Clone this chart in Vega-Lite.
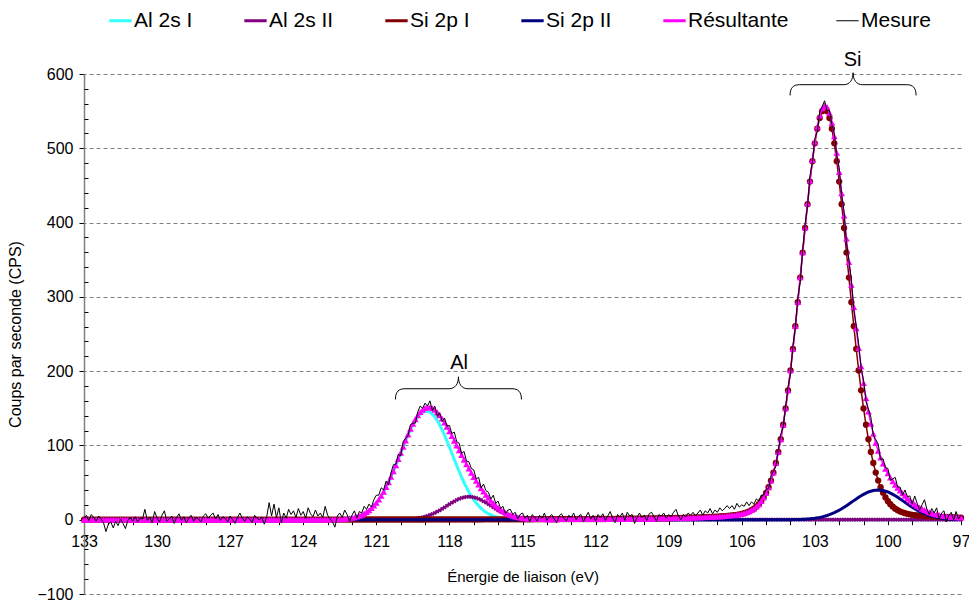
{
"$schema": "https://vega.github.io/schema/vega-lite/v6.json",
"width": 877, "height": 520,
"autosize": {"type": "none"},
"padding": {"left": 84, "top": 74, "right": 8, "bottom": 9},
"background": "white",
"config": {"view": {"stroke": null}, "font": "Liberation Sans", "axis": {"labelFont": "Liberation Sans", "titleFont": "Liberation Sans"}, "legend": {"labelFont": "Liberation Sans"}},
"datasets": {"xps": [
{"x":133.0,"a":0,"b":0,"c":0.1,"d":0,"r":0.1,"m":2},{"x":132.9,"a":0,"b":0,"c":0.1,"d":0,"r":0.1,"m":6},{"x":132.8,"a":0,"b":0,"c":0.1,"d":0,"r":0.1,"m":-1},{"x":132.7,"a":0,"b":0,"c":0.1,"d":0,"r":0.1,"m":7},{"x":132.6,"a":0,"b":0,"c":0.1,"d":0,"r":0.1,"m":3},{"x":132.5,"a":0,"b":0,"c":0.1,"d":0,"r":0.1,"m":-2},{"x":132.4,"a":0,"b":0,"c":0.1,"d":0,"r":0.1,"m":5},{"x":132.3,"a":0,"b":0,"c":0.1,"d":0,"r":0.1,"m":1},{"x":132.2,"a":0,"b":0,"c":0.1,"d":0,"r":0.1,"m":-4},{"x":132.1,"a":0,"b":0,"c":0.1,"d":0,"r":0.1,"m":-16},
{"x":132.0,"a":0,"b":0,"c":0.1,"d":0,"r":0.1,"m":-6},{"x":131.9,"a":0,"b":0,"c":0.1,"d":0,"r":0.1,"m":-3},{"x":131.8,"a":0,"b":0,"c":0.1,"d":0,"r":0.1,"m":-11},{"x":131.7,"a":0,"b":0,"c":0.1,"d":0,"r":0.1,"m":-2},{"x":131.6,"a":0,"b":0,"c":0.1,"d":0,"r":0.1,"m":-8},{"x":131.5,"a":0,"b":0,"c":0.1,"d":0,"r":0.1,"m":1},{"x":131.4,"a":0,"b":0,"c":0.1,"d":0,"r":0.1,"m":-5},{"x":131.3,"a":0,"b":0,"c":0.1,"d":0,"r":0.1,"m":-12},{"x":131.2,"a":0,"b":0,"c":0.1,"d":0,"r":0.1,"m":-1},{"x":131.1,"a":0,"b":0,"c":0.1,"d":0,"r":0.1,"m":3},
{"x":131.0,"a":0,"b":0,"c":0.1,"d":0,"r":0.1,"m":-2},{"x":130.9,"a":0,"b":0,"c":0.1,"d":0,"r":0.1,"m":4},{"x":130.8,"a":0,"b":0,"c":0.1,"d":0,"r":0.1,"m":-3},{"x":130.7,"a":0,"b":0,"c":0.1,"d":0,"r":0.1,"m":2},{"x":130.6,"a":0,"b":0,"c":0.1,"d":0,"r":0.1,"m":1},{"x":130.5,"a":0,"b":0,"c":0.1,"d":0,"r":0.1,"m":14},{"x":130.4,"a":0,"b":0,"c":0.1,"d":0,"r":0.1,"m":-1},{"x":130.3,"a":0,"b":0,"c":0.1,"d":0,"r":0.1,"m":3},{"x":130.2,"a":0,"b":0,"c":0.1,"d":0,"r":0.1,"m":-4},{"x":130.1,"a":0,"b":0,"c":0.1,"d":0,"r":0.1,"m":11},
{"x":130.0,"a":0,"b":0,"c":0.1,"d":0,"r":0.1,"m":2},{"x":129.9,"a":0,"b":0,"c":0.1,"d":0,"r":0.1,"m":-3},{"x":129.8,"a":0,"b":0,"c":0.1,"d":0,"r":0.1,"m":6},{"x":129.7,"a":0,"b":0,"c":0.1,"d":0,"r":0.1,"m":12},{"x":129.6,"a":0,"b":0,"c":0.1,"d":0,"r":0.1,"m":-2},{"x":129.5,"a":0,"b":0,"c":0.1,"d":0,"r":0.1,"m":1},{"x":129.4,"a":0,"b":0,"c":0.1,"d":0,"r":0.1,"m":5},{"x":129.3,"a":0,"b":0,"c":0.1,"d":0,"r":0.1,"m":-5},{"x":129.2,"a":0,"b":0,"c":0.1,"d":0,"r":0.1,"m":3},{"x":129.1,"a":0,"b":0,"c":0.1,"d":0,"r":0.1,"m":8},
{"x":129.0,"a":0,"b":0,"c":0.1,"d":0,"r":0.1,"m":-1},{"x":128.9,"a":0,"b":0,"c":0.1,"d":0,"r":0.1,"m":4},{"x":128.8,"a":0,"b":0,"c":0.1,"d":0,"r":0.1,"m":-4},{"x":128.7,"a":0,"b":0,"c":0.1,"d":0,"r":0.1,"m":2},{"x":128.6,"a":0,"b":0,"c":0.1,"d":0,"r":0.1,"m":6},{"x":128.5,"a":0,"b":0,"c":0.1,"d":0,"r":0.1,"m":-2},{"x":128.4,"a":0,"b":0,"c":0.1,"d":0,"r":0.1,"m":3},{"x":128.3,"a":0,"b":0,"c":0.1,"d":0,"r":0.1,"m":1},{"x":128.2,"a":0,"b":0,"c":0.1,"d":0,"r":0.1,"m":-3},{"x":128.1,"a":0,"b":0,"c":0.1,"d":0,"r":0.1,"m":5},
{"x":128.0,"a":0,"b":0,"c":0.2,"d":0,"r":0.2,"m":8},{"x":127.9,"a":0,"b":0,"c":0.2,"d":0,"r":0.2,"m":2},{"x":127.8,"a":0,"b":0,"c":0.2,"d":0,"r":0.2,"m":6},{"x":127.7,"a":0,"b":0,"c":0.2,"d":0,"r":0.2,"m":9},{"x":127.6,"a":0,"b":0,"c":0.2,"d":0,"r":0.2,"m":1},{"x":127.5,"a":0,"b":0,"c":0.2,"d":0,"r":0.2,"m":7},{"x":127.4,"a":0,"b":0,"c":0.2,"d":0,"r":0.2,"m":-1},{"x":127.3,"a":0,"b":0,"c":0.2,"d":0,"r":0.2,"m":4},{"x":127.2,"a":0,"b":0,"c":0.2,"d":0,"r":0.2,"m":2},{"x":127.1,"a":0,"b":0,"c":0.2,"d":0,"r":0.2,"m":-3},
{"x":127.0,"a":0,"b":0,"c":0.2,"d":0,"r":0.2,"m":5},{"x":126.9,"a":0,"b":0,"c":0.2,"d":0,"r":0.2,"m":0},{"x":126.8,"a":0,"b":0,"c":0.2,"d":0,"r":0.2,"m":-5},{"x":126.7,"a":0,"b":0,"c":0.2,"d":0,"r":0.2,"m":3},{"x":126.6,"a":0,"b":0,"c":0.2,"d":0,"r":0.2,"m":9},{"x":126.5,"a":0,"b":0,"c":0.2,"d":0,"r":0.2,"m":2},{"x":126.4,"a":0,"b":0,"c":0.2,"d":0,"r":0.2,"m":-2},{"x":126.3,"a":0,"b":0,"c":0.2,"d":0,"r":0.2,"m":4},{"x":126.2,"a":0,"b":0,"c":0.2,"d":0,"r":0.2,"m":1},{"x":126.1,"a":0,"b":0,"c":0.2,"d":0,"r":0.2,"m":-4},
{"x":126.0,"a":0,"b":0,"c":0.2,"d":0,"r":0.2,"m":6},{"x":125.9,"a":0,"b":0,"c":0.2,"d":0,"r":0.2,"m":2},{"x":125.8,"a":0,"b":0,"c":0.2,"d":0,"r":0.2,"m":0},{"x":125.7,"a":0,"b":0,"c":0.2,"d":0,"r":0.2,"m":3},{"x":125.6,"a":0,"b":0,"c":0.2,"d":0,"r":0.2,"m":-6},{"x":125.5,"a":0,"b":0,"c":0.2,"d":0,"r":0.2,"m":4},{"x":125.4,"a":0,"b":0,"c":0.2,"d":0,"r":0.2,"m":23},{"x":125.3,"a":0,"b":0,"c":0.2,"d":0,"r":0.2,"m":5},{"x":125.2,"a":0,"b":0,"c":0.2,"d":0,"r":0.2,"m":21},{"x":125.1,"a":0,"b":0,"c":0.2,"d":0,"r":0.2,"m":3},
{"x":125.0,"a":0,"b":0,"c":0.2,"d":0,"r":0.2,"m":16},{"x":124.9,"a":0,"b":0,"c":0.2,"d":0,"r":0.2,"m":-4},{"x":124.8,"a":0,"b":0,"c":0.2,"d":0,"r":0.2,"m":9},{"x":124.7,"a":0,"b":0,"c":0.2,"d":0,"r":0.2,"m":2},{"x":124.6,"a":0,"b":0,"c":0.2,"d":0,"r":0.2,"m":14},{"x":124.5,"a":0,"b":0,"c":0.2,"d":0,"r":0.2,"m":7},{"x":124.4,"a":0,"b":0,"c":0.2,"d":0,"r":0.2,"m":12},{"x":124.3,"a":0,"b":0,"c":0.2,"d":0,"r":0.2,"m":3},{"x":124.2,"a":0,"b":0,"c":0.2,"d":0,"r":0.2,"m":15},{"x":124.1,"a":0,"b":0,"c":0.2,"d":0,"r":0.2,"m":6},
{"x":124.0,"a":0,"b":0,"c":0.2,"d":0,"r":0.2,"m":11},{"x":123.9,"a":0,"b":0,"c":0.2,"d":0,"r":0.2,"m":2},{"x":123.8,"a":0,"b":0,"c":0.2,"d":0,"r":0.2,"m":16},{"x":123.7,"a":0,"b":0,"c":0.2,"d":0,"r":0.2,"m":8},{"x":123.6,"a":0,"b":0,"c":0.2,"d":0,"r":0.2,"m":4},{"x":123.5,"a":0,"b":0,"c":0.2,"d":0,"r":0.2,"m":13},{"x":123.4,"a":0,"b":0,"c":0.2,"d":0,"r":0.2,"m":5},{"x":123.3,"a":0,"b":0,"c":0.2,"d":0,"r":0.2,"m":9},{"x":123.2,"a":0,"b":0,"c":0.2,"d":0,"r":0.2,"m":3},{"x":123.1,"a":0,"b":0,"c":0.2,"d":0,"r":0.2,"m":18},
{"x":123.0,"a":0,"b":0,"c":0.2,"d":0,"r":0.2,"m":6},{"x":122.9,"a":0.1,"b":0,"c":0.2,"d":0,"r":0.3,"m":1},{"x":122.8,"a":0.2,"b":0,"c":0.2,"d":0,"r":0.4,"m":-3},{"x":122.7,"a":0.3,"b":0,"c":0.2,"d":0,"r":0.5,"m":-10},{"x":122.6,"a":0.4,"b":0,"c":0.2,"d":0,"r":0.6,"m":5},{"x":122.5,"a":0.5,"b":0,"c":0.2,"d":0,"r":0.7,"m":9},{"x":122.4,"a":0.7,"b":0,"c":0.2,"d":0,"r":0.9,"m":3},{"x":122.3,"a":1.0,"b":0,"c":0.2,"d":0,"r":1.2,"m":13},{"x":122.2,"a":1.3,"b":0,"c":0.2,"d":0,"r":1.5,"m":7},{"x":122.1,"a":1.8,"b":0,"c":0.2,"d":0,"r":2.0,"m":-2},
{"x":122.0,"a":2.3,"b":0,"c":0.2,"d":0,"r":2.5,"m":6},{"x":121.9,"a":3.0,"b":0,"c":0.2,"d":0,"r":3.2,"m":12},{"x":121.8,"a":3.9,"b":0,"c":0.2,"d":0,"r":4.1,"m":2},{"x":121.7,"a":5.0,"b":0,"c":0.2,"d":0,"r":5.2,"m":11},{"x":121.6,"a":6.4,"b":0,"c":0.2,"d":0,"r":6.6,"m":9},{"x":121.5,"a":8.1,"b":0,"c":0.3,"d":0,"r":8.4,"m":18},{"x":121.4,"a":10.1,"b":0,"c":0.3,"d":0,"r":10.4,"m":14},{"x":121.3,"a":12.5,"b":0,"c":0.3,"d":0,"r":12.8,"m":21},{"x":121.2,"a":15.3,"b":0,"c":0.3,"d":0,"r":15.6,"m":17},{"x":121.1,"a":18.7,"b":0,"c":0.3,"d":0,"r":19.0,"m":27},
{"x":121.0,"a":22.5,"b":0,"c":0.3,"d":0,"r":22.8,"m":33},{"x":120.9,"a":26.9,"b":0,"c":0.3,"d":0,"r":27.2,"m":33},{"x":120.8,"a":31.8,"b":0,"c":0.3,"d":0,"r":32.1,"m":43},{"x":120.7,"a":37.4,"b":0,"c":0.3,"d":0,"r":37.7,"m":40},{"x":120.6,"a":43.5,"b":0,"c":0.3,"d":0,"r":43.8,"m":52},{"x":120.5,"a":50.1,"b":0,"c":0.3,"d":0,"r":50.4,"m":47},{"x":120.4,"a":57.3,"b":0,"c":0.3,"d":0,"r":57.6,"m":63},{"x":120.3,"a":64.9,"b":0.1,"c":0.3,"d":0,"r":65.3,"m":74},{"x":120.2,"a":72.8,"b":0.1,"c":0.3,"d":0,"r":73.2,"m":75},{"x":120.1,"a":81.1,"b":0.2,"c":0.3,"d":0,"r":81.6,"m":88},
{"x":120.0,"a":89.4,"b":0.2,"c":0.3,"d":0,"r":89.9,"m":86},{"x":119.9,"a":97.7,"b":0.3,"c":0.3,"d":0,"r":98.3,"m":105},{"x":119.8,"a":105.9,"b":0.5,"c":0.3,"d":0,"r":106.7,"m":110},{"x":119.7,"a":113.7,"b":0.7,"c":0.3,"d":0,"r":114.7,"m":113},{"x":119.6,"a":121.0,"b":0.9,"c":0.3,"d":0,"r":122.2,"m":128},{"x":119.5,"a":127.6,"b":1.2,"c":0.3,"d":0,"r":129.1,"m":130},{"x":119.4,"a":133.4,"b":1.6,"c":0.3,"d":0,"r":135.3,"m":130},{"x":119.3,"a":138.3,"b":2.0,"c":0.3,"d":0,"r":140.6,"m":145},{"x":119.2,"a":142.0,"b":2.6,"c":0.3,"d":0,"r":144.9,"m":153},{"x":119.1,"a":144.5,"b":3.3,"c":0.3,"d":0,"r":148.1,"m":150},
{"x":119.0,"a":145.8,"b":4.2,"c":0.4,"d":0,"r":150.4,"m":157},{"x":118.9,"a":145.8,"b":5.2,"c":0.4,"d":0,"r":151.4,"m":153},{"x":118.8,"a":144.5,"b":6.4,"c":0.4,"d":0,"r":151.3,"m":160},{"x":118.7,"a":142.0,"b":7.7,"c":0.4,"d":0,"r":150.1,"m":147},{"x":118.6,"a":138.3,"b":9.2,"c":0.4,"d":0,"r":147.9,"m":153},{"x":118.5,"a":133.4,"b":10.9,"c":0.4,"d":0,"r":144.7,"m":139},{"x":118.4,"a":127.6,"b":12.7,"c":0.4,"d":0,"r":140.7,"m":144},{"x":118.3,"a":121.0,"b":14.7,"c":0.4,"d":0,"r":136.1,"m":132},{"x":118.2,"a":113.7,"b":16.7,"c":0.4,"d":0,"r":130.8,"m":137},{"x":118.1,"a":105.9,"b":18.8,"c":0.4,"d":0,"r":125.1,"m":126},
{"x":118.0,"a":97.7,"b":20.9,"c":0.4,"d":0,"r":119.0,"m":127},{"x":117.9,"a":89.4,"b":22.9,"c":0.4,"d":0,"r":112.7,"m":116},{"x":117.8,"a":81.1,"b":24.8,"c":0.4,"d":0,"r":106.3,"m":118},{"x":117.7,"a":72.8,"b":26.6,"c":0.4,"d":0,"r":99.8,"m":105},{"x":117.6,"a":64.9,"b":28.1,"c":0.4,"d":0,"r":93.4,"m":103},{"x":117.5,"a":57.3,"b":29.3,"c":0.4,"d":0,"r":87.0,"m":89},{"x":117.4,"a":50.1,"b":30.2,"c":0.4,"d":0,"r":80.7,"m":92},{"x":117.3,"a":43.5,"b":30.8,"c":0.4,"d":0,"r":74.7,"m":79},{"x":117.2,"a":37.4,"b":31.0,"c":0.4,"d":0,"r":68.8,"m":78},{"x":117.1,"a":31.8,"b":30.8,"c":0.4,"d":0,"r":63.0,"m":69},
{"x":117.0,"a":26.9,"b":30.2,"c":0.4,"d":0,"r":57.5,"m":67},{"x":116.9,"a":22.5,"b":29.3,"c":0.4,"d":0,"r":52.2,"m":55},{"x":116.8,"a":18.7,"b":28.1,"c":0.4,"d":0,"r":47.2,"m":57},{"x":116.7,"a":15.3,"b":26.6,"c":0.4,"d":0,"r":42.3,"m":43},{"x":116.6,"a":12.5,"b":24.8,"c":0.5,"d":0,"r":37.8,"m":48},{"x":116.5,"a":10.1,"b":22.9,"c":0.5,"d":0,"r":33.5,"m":39},{"x":116.4,"a":8.1,"b":20.9,"c":0.5,"d":0,"r":29.5,"m":37},{"x":116.3,"a":6.4,"b":18.8,"c":0.5,"d":0,"r":25.7,"m":28},{"x":116.2,"a":5.0,"b":16.7,"c":0.5,"d":0,"r":22.2,"m":33},{"x":116.1,"a":3.9,"b":14.7,"c":0.5,"d":0,"r":19.1,"m":22},
{"x":116.0,"a":3.0,"b":12.7,"c":0.5,"d":0,"r":16.2,"m":25},{"x":115.9,"a":2.3,"b":10.9,"c":0.5,"d":0,"r":13.7,"m":15},{"x":115.8,"a":1.8,"b":9.2,"c":0.5,"d":0,"r":11.5,"m":18},{"x":115.7,"a":1.3,"b":7.7,"c":0.5,"d":0,"r":9.5,"m":8},{"x":115.6,"a":1.0,"b":6.4,"c":0.5,"d":0,"r":7.9,"m":13},{"x":115.5,"a":0.7,"b":5.2,"c":0.6,"d":0,"r":6.5,"m":14},{"x":115.4,"a":0.5,"b":4.2,"c":0.6,"d":0,"r":5.3,"m":7},{"x":115.3,"a":0.4,"b":3.3,"c":0.6,"d":0,"r":4.3,"m":10},{"x":115.2,"a":0.3,"b":2.6,"c":0.6,"d":0,"r":3.5,"m":1},{"x":115.1,"a":0.2,"b":2.0,"c":0.6,"d":0,"r":2.8,"m":7},
{"x":115.0,"a":0.1,"b":1.6,"c":0.6,"d":0,"r":2.3,"m":9},{"x":114.9,"a":0,"b":1.2,"c":0.6,"d":0,"r":1.8,"m":2},{"x":114.8,"a":0,"b":0.9,"c":0.6,"d":0,"r":1.5,"m":6},{"x":114.7,"a":0,"b":0.7,"c":0.6,"d":0,"r":1.3,"m":-3},{"x":114.6,"a":0,"b":0.5,"c":0.6,"d":0,"r":1.1,"m":7},{"x":114.5,"a":0,"b":0.3,"c":0.7,"d":0,"r":1.0,"m":3},{"x":114.4,"a":0,"b":0.2,"c":0.7,"d":0,"r":0.9,"m":-2},{"x":114.3,"a":0,"b":0.2,"c":0.7,"d":0,"r":0.9,"m":6},{"x":114.2,"a":0,"b":0.1,"c":0.7,"d":0,"r":0.8,"m":2},{"x":114.1,"a":0,"b":0.1,"c":0.7,"d":0,"r":0.8,"m":9},
{"x":114.0,"a":0,"b":0,"c":0.7,"d":0,"r":0.7,"m":-1},{"x":113.9,"a":0,"b":0,"c":0.7,"d":0,"r":0.7,"m":4},{"x":113.8,"a":0,"b":0,"c":0.7,"d":0,"r":0.7,"m":7},{"x":113.7,"a":0,"b":0,"c":0.7,"d":0,"r":0.7,"m":1},{"x":113.6,"a":0,"b":0,"c":0.7,"d":0,"r":0.7,"m":-4},{"x":113.5,"a":0,"b":0,"c":0.8,"d":0,"r":0.8,"m":5},{"x":113.4,"a":0,"b":0,"c":0.8,"d":0,"r":0.8,"m":8},{"x":113.3,"a":0,"b":0,"c":0.8,"d":0,"r":0.8,"m":2},{"x":113.2,"a":0,"b":0,"c":0.8,"d":0,"r":0.8,"m":-2},{"x":113.1,"a":0,"b":0,"c":0.8,"d":0,"r":0.8,"m":6},
{"x":113.0,"a":0,"b":0,"c":0.9,"d":0,"r":0.9,"m":3},{"x":112.9,"a":0,"b":0,"c":0.9,"d":0,"r":0.9,"m":9},{"x":112.8,"a":0,"b":0,"c":0.9,"d":0,"r":0.9,"m":0},{"x":112.7,"a":0,"b":0,"c":0.9,"d":0,"r":0.9,"m":5},{"x":112.6,"a":0,"b":0,"c":0.9,"d":0,"r":0.9,"m":7},{"x":112.5,"a":0,"b":0,"c":0.9,"d":0,"r":0.9,"m":-3},{"x":112.4,"a":0,"b":0,"c":0.9,"d":0,"r":0.9,"m":4},{"x":112.3,"a":0,"b":0,"c":0.9,"d":0,"r":0.9,"m":10},{"x":112.2,"a":0,"b":0,"c":0.9,"d":0,"r":0.9,"m":1},{"x":112.1,"a":0,"b":0,"c":0.9,"d":0,"r":0.9,"m":6},
{"x":112.0,"a":0,"b":0,"c":1.0,"d":0,"r":1.0,"m":-2},{"x":111.9,"a":0,"b":0,"c":1.0,"d":0,"r":1.0,"m":7},{"x":111.8,"a":0,"b":0,"c":1.0,"d":0,"r":1.0,"m":3},{"x":111.7,"a":0,"b":0,"c":1.0,"d":0,"r":1.0,"m":8},{"x":111.6,"a":0,"b":0,"c":1.0,"d":0,"r":1.0,"m":-1},{"x":111.5,"a":0,"b":0,"c":1.1,"d":0,"r":1.1,"m":5},{"x":111.4,"a":0,"b":0,"c":1.1,"d":0,"r":1.1,"m":11},{"x":111.3,"a":0,"b":0,"c":1.1,"d":0,"r":1.1,"m":2},{"x":111.2,"a":0,"b":0,"c":1.2,"d":0,"r":1.2,"m":-4},{"x":111.1,"a":0,"b":0,"c":1.2,"d":0,"r":1.2,"m":7},
{"x":111.0,"a":0,"b":0,"c":1.2,"d":0,"r":1.2,"m":4},{"x":110.9,"a":0,"b":0,"c":1.2,"d":0,"r":1.2,"m":9},{"x":110.8,"a":0,"b":0,"c":1.3,"d":0,"r":1.3,"m":-1},{"x":110.7,"a":0,"b":0,"c":1.3,"d":0,"r":1.3,"m":10},{"x":110.6,"a":0,"b":0,"c":1.3,"d":0,"r":1.3,"m":5},{"x":110.5,"a":0,"b":0,"c":1.4,"d":0,"r":1.4,"m":7},{"x":110.4,"a":0,"b":0,"c":1.4,"d":0,"r":1.4,"m":-5},{"x":110.3,"a":0,"b":0,"c":1.4,"d":0,"r":1.4,"m":3},{"x":110.2,"a":0,"b":0,"c":1.5,"d":0,"r":1.5,"m":9},{"x":110.1,"a":0,"b":0,"c":1.5,"d":0,"r":1.5,"m":3},
{"x":110.0,"a":0,"b":0,"c":1.6,"d":0,"r":1.6,"m":6},{"x":109.9,"a":0,"b":0,"c":1.6,"d":0,"r":1.6,"m":-1},{"x":109.8,"a":0,"b":0,"c":1.7,"d":0,"r":1.7,"m":8},{"x":109.7,"a":0,"b":0,"c":1.7,"d":0,"r":1.7,"m":10},{"x":109.6,"a":0,"b":0,"c":1.7,"d":0,"r":1.7,"m":4},{"x":109.5,"a":0,"b":0,"c":1.8,"d":0,"r":1.8,"m":-2},{"x":109.4,"a":0,"b":0,"c":1.8,"d":0,"r":1.8,"m":7},{"x":109.3,"a":0,"b":0,"c":1.9,"d":0,"r":1.9,"m":5},{"x":109.2,"a":0,"b":0,"c":2.0,"d":0,"r":2.0,"m":9},{"x":109.1,"a":0,"b":0,"c":2.0,"d":0,"r":2.0,"m":2},
{"x":109.0,"a":0,"b":0,"c":2.1,"d":0,"r":2.1,"m":7},{"x":108.9,"a":0,"b":0,"c":2.1,"d":0,"r":2.1,"m":4},{"x":108.8,"a":0,"b":0,"c":2.2,"d":0,"r":2.2,"m":10},{"x":108.7,"a":0,"b":0,"c":2.3,"d":0,"r":2.3,"m":14},{"x":108.6,"a":0,"b":0,"c":2.4,"d":0,"r":2.4,"m":5},{"x":108.5,"a":0,"b":0,"c":2.4,"d":0,"r":2.4,"m":0},{"x":108.4,"a":0,"b":0,"c":2.5,"d":0,"r":2.5,"m":7},{"x":108.3,"a":0,"b":0,"c":2.6,"d":0,"r":2.6,"m":4},{"x":108.2,"a":0,"b":0,"c":2.7,"d":0,"r":2.7,"m":9},{"x":108.1,"a":0,"b":0,"c":2.8,"d":0,"r":2.8,"m":6},
{"x":108.0,"a":0,"b":0,"c":2.9,"d":0,"r":2.9,"m":10},{"x":107.9,"a":0,"b":0,"c":3.0,"d":0,"r":3.0,"m":5},{"x":107.8,"a":0,"b":0,"c":3.1,"d":0,"r":3.1,"m":9},{"x":107.7,"a":0,"b":0,"c":3.2,"d":0,"r":3.2,"m":13},{"x":107.6,"a":0,"b":0,"c":3.3,"d":0,"r":3.3,"m":6},{"x":107.5,"a":0,"b":0,"c":3.5,"d":0,"r":3.5,"m":12},{"x":107.4,"a":0,"b":0,"c":3.6,"d":0,"r":3.6,"m":9},{"x":107.3,"a":0,"b":0,"c":3.8,"d":0,"r":3.8,"m":15},{"x":107.2,"a":0,"b":0,"c":3.9,"d":0,"r":3.9,"m":8},{"x":107.1,"a":0,"b":0,"c":4.1,"d":0,"r":4.1,"m":13},
{"x":107.0,"a":0,"b":0,"c":4.2,"d":0,"r":4.2,"m":10},{"x":106.9,"a":0,"b":0,"c":4.4,"d":0,"r":4.4,"m":16},{"x":106.8,"a":0,"b":0,"c":4.7,"d":0,"r":4.7,"m":12},{"x":106.7,"a":0,"b":0,"c":4.9,"d":0,"r":4.9,"m":15},{"x":106.6,"a":0,"b":0,"c":5.2,"d":0,"r":5.2,"m":19},{"x":106.5,"a":0,"b":0,"c":5.5,"d":0,"r":5.5,"m":15},{"x":106.4,"a":0,"b":0,"c":5.8,"d":0,"r":5.8,"m":19},{"x":106.3,"a":0,"b":0,"c":6.2,"d":0,"r":6.2,"m":14},{"x":106.2,"a":0,"b":0,"c":6.6,"d":0,"r":6.6,"m":22},{"x":106.1,"a":0,"b":0,"c":7.3,"d":0,"r":7.3,"m":17},
{"x":106.0,"a":0,"b":0,"c":7.9,"d":0,"r":7.9,"m":20},{"x":105.9,"a":0,"b":0,"c":8.8,"d":0,"r":8.8,"m":18},{"x":105.8,"a":0,"b":0,"c":9.9,"d":0,"r":9.9,"m":24},{"x":105.7,"a":0,"b":0,"c":11.2,"d":0,"r":11.2,"m":19},{"x":105.6,"a":0,"b":0,"c":12.9,"d":0,"r":12.9,"m":24},{"x":105.5,"a":0,"b":0,"c":14.9,"d":0,"r":14.9,"m":21},{"x":105.4,"a":0,"b":0,"c":17.6,"d":0,"r":17.6,"m":28},{"x":105.3,"a":0,"b":0,"c":20.9,"d":0,"r":20.9,"m":25},{"x":105.2,"a":0,"b":0,"c":25.0,"d":0,"r":25.0,"m":33},{"x":105.1,"a":0,"b":0,"c":30.0,"d":0,"r":30.0,"m":33},
{"x":105.0,"a":0,"b":0,"c":36.2,"d":0,"r":36.2,"m":41},{"x":104.9,"a":0,"b":0,"c":43.7,"d":0,"r":43.7,"m":42},{"x":104.8,"a":0,"b":0,"c":52.7,"d":0,"r":52.7,"m":59},{"x":104.7,"a":0,"b":0,"c":63.5,"d":0,"r":63.5,"m":65},{"x":104.6,"a":0,"b":0,"c":76.3,"d":0,"r":76.3,"m":72},{"x":104.5,"a":0,"b":0,"c":91.2,"d":0,"r":91.2,"m":94},{"x":104.4,"a":0,"b":0,"c":108.3,"d":0,"r":108.3,"m":115},{"x":104.3,"a":0,"b":0,"c":127.8,"d":0,"r":127.8,"m":125},{"x":104.2,"a":0,"b":0,"c":149.8,"d":0.1,"r":149.9,"m":152},{"x":104.1,"a":0,"b":0,"c":174.2,"d":0.1,"r":174.3,"m":179},
{"x":104.0,"a":0,"b":0,"c":200.9,"d":0.1,"r":201.0,"m":196},{"x":103.9,"a":0,"b":0,"c":229.8,"d":0.2,"r":230.0,"m":234},{"x":103.8,"a":0,"b":0,"c":260.6,"d":0.2,"r":260.8,"m":259},{"x":103.7,"a":0,"b":0,"c":292.8,"d":0.3,"r":293.1,"m":299},{"x":103.6,"a":0,"b":0,"c":325.9,"d":0.4,"r":326.3,"m":320},{"x":103.5,"a":0,"b":0,"c":359.5,"d":0.6,"r":360.1,"m":363},{"x":103.4,"a":0,"b":0,"c":392.7,"d":0.7,"r":393.4,"m":398},{"x":103.3,"a":0,"b":0,"c":424.8,"d":1.0,"r":425.8,"m":422},{"x":103.2,"a":0,"b":0,"c":455.2,"d":1.2,"r":456.4,"m":463},{"x":103.1,"a":0,"b":0,"c":482.7,"d":1.6,"r":484.3,"m":481},
{"x":103.0,"a":0,"b":0,"c":506.7,"d":2.0,"r":508.7,"m":513},{"x":102.9,"a":0,"b":0,"c":526.3,"d":2.5,"r":528.8,"m":523},{"x":102.8,"a":0,"b":0,"c":540.9,"d":3.1,"r":544.0,"m":549},{"x":102.7,"a":0,"b":0,"c":550.0,"d":3.8,"r":553.8,"m":556},{"x":102.6,"a":0,"b":0,"c":553.0,"d":4.7,"r":557.7,"m":564},{"x":102.5,"a":0,"b":0,"c":550.0,"d":5.7,"r":555.7,"m":551},{"x":102.4,"a":0,"b":0,"c":540.9,"d":6.8,"r":547.7,"m":551},{"x":102.3,"a":0,"b":0,"c":526.3,"d":8.1,"r":534.4,"m":532},{"x":102.2,"a":0,"b":0,"c":506.7,"d":9.5,"r":516.2,"m":520},{"x":102.1,"a":0,"b":0,"c":482.7,"d":11.1,"r":493.8,"m":490},
{"x":102.0,"a":0,"b":0,"c":455.2,"d":12.8,"r":468.0,"m":474},{"x":101.9,"a":0,"b":0,"c":424.8,"d":14.7,"r":439.5,"m":437},{"x":101.8,"a":0,"b":0,"c":392.7,"d":16.8,"r":409.5,"m":415},{"x":101.7,"a":0,"b":0,"c":359.5,"d":18.9,"r":378.4,"m":372},{"x":101.6,"a":0,"b":0,"c":325.9,"d":21.1,"r":347.0,"m":349},{"x":101.5,"a":0,"b":0,"c":292.8,"d":23.4,"r":316.2,"m":323},{"x":101.4,"a":0,"b":0,"c":260.6,"d":25.7,"r":286.3,"m":282},{"x":101.3,"a":0,"b":0,"c":229.8,"d":27.9,"r":257.7,"m":261},{"x":101.2,"a":0,"b":0,"c":200.9,"d":30.1,"r":231.0,"m":237},{"x":101.1,"a":0,"b":0,"c":174.2,"d":32.2,"r":206.4,"m":204},
{"x":101.0,"a":0,"b":0,"c":149.8,"d":34.1,"r":183.9,"m":188},{"x":100.9,"a":0,"b":0,"c":127.8,"d":35.8,"r":163.6,"m":159},{"x":100.8,"a":0,"b":0,"c":108.3,"d":37.3,"r":145.6,"m":149},{"x":100.7,"a":0,"b":0,"c":91.2,"d":38.4,"r":129.6,"m":138},{"x":100.6,"a":0,"b":0,"c":76.3,"d":39.3,"r":115.6,"m":114},{"x":100.5,"a":0,"b":0,"c":63.5,"d":39.8,"r":103.3,"m":108},{"x":100.4,"a":0,"b":0,"c":52.7,"d":40.0,"r":92.7,"m":102},{"x":100.3,"a":0,"b":0,"c":43.7,"d":39.8,"r":83.5,"m":81},{"x":100.2,"a":0,"b":0,"c":36.2,"d":39.3,"r":75.5,"m":82},{"x":100.1,"a":0,"b":0,"c":30.0,"d":38.4,"r":68.4,"m":70},
{"x":100.0,"a":0,"b":0,"c":25.0,"d":37.3,"r":62.3,"m":69},{"x":99.9,"a":0,"b":0,"c":20.9,"d":35.8,"r":56.7,"m":53},{"x":99.8,"a":0,"b":0,"c":17.6,"d":34.1,"r":51.7,"m":55},{"x":99.7,"a":0,"b":0,"c":14.9,"d":32.2,"r":47.1,"m":57},{"x":99.6,"a":0,"b":0,"c":12.9,"d":30.1,"r":43.0,"m":44},{"x":99.5,"a":0,"b":0,"c":11.2,"d":27.9,"r":39.1,"m":44},{"x":99.4,"a":0,"b":0,"c":9.9,"d":25.7,"r":35.6,"m":33},{"x":99.3,"a":0,"b":0,"c":8.8,"d":23.4,"r":32.2,"m":40},{"x":99.2,"a":0,"b":0,"c":7.9,"d":21.1,"r":29.0,"m":31},{"x":99.1,"a":0,"b":0,"c":7.3,"d":18.9,"r":26.2,"m":32},
{"x":99.0,"a":0,"b":0,"c":6.6,"d":16.8,"r":23.4,"m":21},{"x":98.9,"a":0,"b":0,"c":6.2,"d":14.7,"r":20.9,"m":32},{"x":98.8,"a":0,"b":0,"c":5.8,"d":12.8,"r":18.6,"m":22},{"x":98.7,"a":0,"b":0,"c":5.5,"d":11.1,"r":16.6,"m":13},{"x":98.6,"a":0,"b":0,"c":5.2,"d":9.5,"r":14.7,"m":20},{"x":98.5,"a":0,"b":0,"c":4.9,"d":8.1,"r":13.0,"m":27},{"x":98.4,"a":0,"b":0,"c":4.7,"d":6.8,"r":11.5,"m":14},{"x":98.3,"a":0,"b":0,"c":4.4,"d":5.7,"r":10.1,"m":7},{"x":98.2,"a":0,"b":0,"c":4.2,"d":4.7,"r":8.9,"m":15},{"x":98.1,"a":0,"b":0,"c":4.1,"d":3.8,"r":7.9,"m":9},
{"x":98.0,"a":0,"b":0,"c":3.9,"d":3.1,"r":7.0,"m":16},{"x":97.9,"a":0,"b":0,"c":3.8,"d":2.5,"r":6.3,"m":1},{"x":97.8,"a":0,"b":0,"c":3.6,"d":2.0,"r":5.6,"m":9},{"x":97.7,"a":0,"b":0,"c":3.5,"d":1.6,"r":5.1,"m":12},{"x":97.6,"a":0,"b":0,"c":3.3,"d":1.2,"r":4.5,"m":-3},{"x":97.5,"a":0,"b":0,"c":3.2,"d":1.0,"r":4.2,"m":6},{"x":97.4,"a":0,"b":0,"c":3.1,"d":0.7,"r":3.8,"m":10},{"x":97.3,"a":0,"b":0,"c":3.0,"d":0.6,"r":3.6,"m":0},{"x":97.2,"a":0,"b":0,"c":2.9,"d":0.4,"r":3.3,"m":11},{"x":97.1,"a":0,"b":0,"c":2.8,"d":0.3,"r":3.1,"m":1},
{"x":97.0,"a":0,"b":0,"c":2.7,"d":0.2,"r":2.9,"m":6}
]},
"layer": [
 {
  "encoding": {"x": {"field": "x", "type": "quantitative", "scale": {"domain": [97, 133], "reverse": true, "nice": false, "zero": false},
    "axis": {"values": [133,132,131,130,129,128,127,126,125,124,123,122,121,120,119,118,117,116,115,114,113,112,111,110,109,108,107,106,105,104,103,102,101,100,99,98,97],
      "labelExpr": "(133 - datum.value) % 3 == 0 ? datum.label : ''", "labelOverlap": false, "labelFlush": false, "labelBound": false,
      "offset": -74.29, "tickSize": 5, "tickColor": "#000000", "domainColor": "#808080", "labelFontSize": 16, "labelPadding": 9, "labelColor": "#000000",
      "title": "Énergie de liaison (eV)", "titleFontSize": 15, "titleFontWeight": "normal", "titleColor": "#000000", "titlePadding": 20, "grid": false}}},
  "layer": [
   {"data": {"name": "xps"}, "mark": {"type": "line", "strokeWidth": 3},
    "encoding": {"y": {"field": "a", "type": "quantitative", "scale": {"domain": [-100, 600], "nice": false, "zero": false},
       "axis": {"values": [-100,0,100,200,300,400,500,600], "grid": true, "gridDash": [4,3], "gridColor": "#808080", "gridWidth": 1, "tickSize": 5, "tickColor": "#000000", "domainColor": "#808080", "domainWidth": 1.5, "labelFontSize": 16, "labelPadding": 6, "labelColor": "#000000", "labelFlush": false, "title": "Coups par seconde (CPS)", "titleFontSize": 16, "titleFontWeight": "normal", "titleColor": "#000000", "titlePadding": 13}},
     "color": {"datum": "Al 2s I", "type": "nominal",
       "scale": {"domain": ["Al 2s I", "Al 2s II", "Si 2p I", "Si 2p II", "Résultante", "Mesure"], "range": ["#33FFFF", "#800080", "#800000", "#000080", "#FF00FF", "#000000"]},
       "legend": {"orient": "none", "legendX": 26, "legendY": -64, "direction": "horizontal", "title": null, "symbolType": "stroke", "symbolSize": 500, "symbolStrokeWidth": {"expr": "datum.value === 'Mesure' ? 1 : 3"}, "labelFontSize": 21, "labelOffset": 3, "columnPadding": 45, "labelColor": "#000000"}}}},
   {"data": {"name": "xps"}, "mark": {"type": "line", "strokeWidth": 1.5},
    "encoding": {"y": {"field": "b", "type": "quantitative"}, "color": {"datum": "Al 2s II", "type": "nominal"}}},
   {"data": {"name": "xps"}, "mark": {"type": "point", "shape": "cross", "angle": 45, "size": 18, "filled": true, "opacity": 1},
    "encoding": {"y": {"field": "b", "type": "quantitative"}, "color": {"datum": "Al 2s II", "type": "nominal"}}},
   {"data": {"name": "xps"}, "mark": {"type": "line", "strokeWidth": 1.5},
    "encoding": {"y": {"field": "c", "type": "quantitative"}, "color": {"datum": "Si 2p I", "type": "nominal"}}},
   {"data": {"name": "xps"}, "mark": {"type": "point", "shape": "circle", "size": 40, "filled": true, "opacity": 1},
    "encoding": {"y": {"field": "c", "type": "quantitative"}, "color": {"datum": "Si 2p I", "type": "nominal"}}},
   {"data": {"name": "xps"}, "mark": {"type": "line", "strokeWidth": 3},
    "encoding": {"y": {"field": "d", "type": "quantitative"}, "color": {"datum": "Si 2p II", "type": "nominal"}}},
   {"data": {"name": "xps"}, "mark": {"type": "line", "strokeWidth": 1.5},
    "encoding": {"y": {"field": "r", "type": "quantitative"}, "color": {"datum": "Résultante", "type": "nominal"}}},
   {"data": {"name": "xps"}, "mark": {"type": "point", "shape": "triangle-up", "size": 46, "filled": true, "opacity": 1},
    "encoding": {"y": {"field": "r", "type": "quantitative"}, "color": {"datum": "Résultante", "type": "nominal"}}},
   {"data": {"name": "xps"}, "mark": {"type": "line", "strokeWidth": 1},
    "encoding": {"y": {"field": "m", "type": "quantitative"}, "color": {"datum": "Mesure", "type": "nominal"}}},
   {"data": {"values": [{"label": "Al", "x": 117.6, "y": 211}, {"label": "Si", "x": 101.45, "y": 619}]},
    "mark": {"type": "text", "fontSize": 20, "align": "center", "baseline": "middle", "color": "#000000", "font": "Liberation Sans"},
    "encoding": {"y": {"field": "y", "type": "quantitative"}, "text": {"field": "label", "type": "nominal"}}},
   {"data": {"values": [{"x": 117.63, "y": 176.3}, {"x": 101.43, "y": 585.6}]},
    "mark": {"type": "point", "shape": "M -1 0.17 C -1 0.05 -0.95 0 -0.85 0 L -0.15 0 C -0.05 0 0 -0.08 0 -0.19 C 0 -0.08 0.05 0 0.15 0 L 0.85 0 C 0.95 0 1 0.05 1 0.17", "size": 15876, "filled": false, "color": "#000000", "strokeWidth": 1, "opacity": 1},
    "encoding": {"y": {"field": "y", "type": "quantitative"}}}
  ]
 },
 {"data": {"values": [{}]}, "mark": {"type": "point", "opacity": 0},
  "encoding": {"y": {"datum": 0, "type": "quantitative",
   "axis": {"orient": "left", "values": [-80,-60,-40,-20,20,40,60,80,120,140,160,180,220,240,260,280,320,340,360,380,420,440,460,480,520,540,560,580], "tickSize": -4, "tickColor": "#000000", "labels": false, "domain": false, "grid": false, "title": null}}}}
],
"resolve": {"axis": {"y": "independent"}}
}
